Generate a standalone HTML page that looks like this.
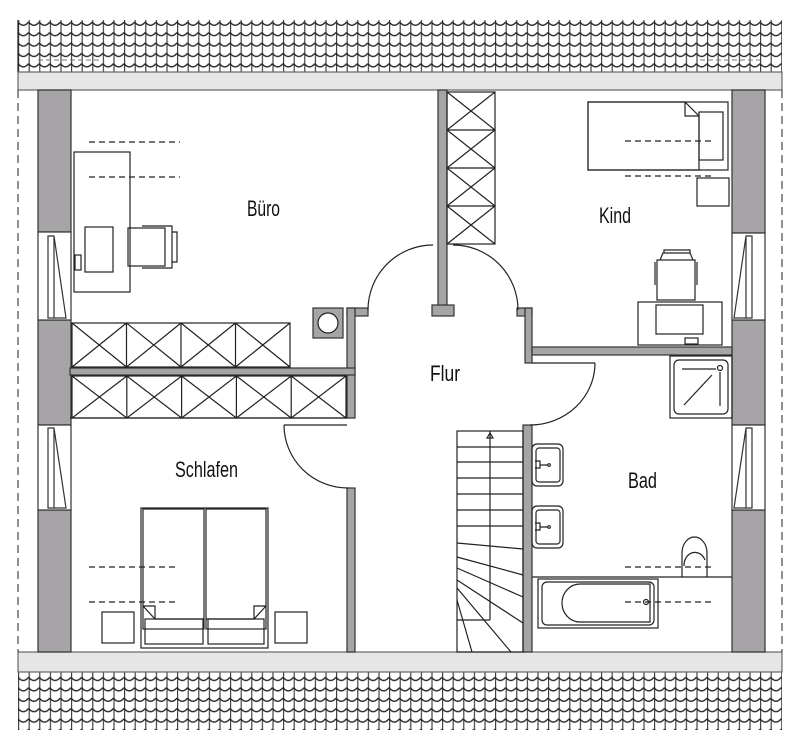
<!DOCTYPE html>
<html><head><meta charset="utf-8"><style>
html,body{margin:0;padding:0;background:#fff;width:800px;height:750px;overflow:hidden}
svg{display:block}
text{font-family:"Liberation Sans",sans-serif;font-size:22px;fill:#111}
</style></head><body>
<svg width="800" height="750" viewBox="0 0 800 750" xmlns="http://www.w3.org/2000/svg">
<defs>
<pattern id="tile" x="18" y="20" width="10.6" height="10.4" patternUnits="userSpaceOnUse">
<rect width="10.6" height="10.4" fill="#fff"/>
<line x1="0.6" y1="0" x2="0.6" y2="10.4" stroke="#333" stroke-width="1.1"/>
<path d="M0,2 Q5.3,8.5 10.6,2" fill="none" stroke="#222" stroke-width="1.4"/>
</pattern>
</defs>
<g stroke="#222" fill="none" stroke-width="1.2">
<rect x="18" y="20" width="764" height="52" fill="url(#tile)" stroke="none"/>
<line x1="18" y1="20" x2="18" y2="72"/>
<rect x="18" y="72" width="764" height="18" fill="#e6e6e6" stroke="#666"/>
<rect x="18" y="672" width="764" height="58" fill="url(#tile)" stroke="none"/>
<rect x="18" y="652" width="764" height="20" fill="#e6e6e6" stroke="#666"/>
<line x1="18" y1="90" x2="18" y2="652" stroke-dasharray="8,5" stroke="#444"/>
<line x1="782" y1="90" x2="782" y2="652" stroke-dasharray="8,5" stroke="#444"/>
<line x1="38" y1="60" x2="100" y2="60" stroke-dasharray="5,3" stroke="#777" stroke-width="1"/>
<line x1="700" y1="60" x2="760" y2="60" stroke-dasharray="5,3" stroke="#777" stroke-width="1"/>

<g fill="#a6a4a6" stroke="#333">
<rect x="38" y="90" width="33" height="142"/>
<rect x="38" y="320" width="33" height="105"/>
<rect x="38" y="510" width="33" height="142"/>
<rect x="732" y="90" width="33" height="143"/>
<rect x="732" y="320" width="33" height="105"/>
<rect x="732" y="510" width="33" height="142"/>
</g>
<g fill="#fff" stroke="#333">
<rect x="38" y="232" width="33" height="88"/>
<path d="M48,236 L54,236 L54,318 L48,318 Z M54,236 L66,318 L48,318"/>
<rect x="38" y="425" width="33" height="85"/>
<path d="M48,428 L54,428 L54,508 L48,508 Z M54,428 L66,508 L48,508"/>
<rect x="732" y="233" width="33" height="87"/>
<path d="M752,236 L746,236 L746,318 L752,318 Z M746,236 L734,318 L752,318"/>
<rect x="732" y="425" width="33" height="85"/>
<path d="M752,428 L746,428 L746,508 L752,508 Z M746,428 L734,508 L752,508"/>
</g>

<g fill="#a6a4a6" stroke="#333">
<rect x="438" y="90" width="9" height="216"/>
<rect x="432" y="305" width="22" height="11"/>
<rect x="347" y="308" width="21" height="8"/>
<rect x="347" y="308" width="8" height="110"/>
<rect x="70" y="368" width="285" height="7"/>
<rect x="347" y="488" width="8" height="164"/>
<rect x="517" y="308" width="15" height="8"/>
<rect x="525" y="308" width="7" height="55"/>
<rect x="532" y="347" width="200" height="8"/>
<rect x="523" y="425" width="9" height="227"/>
<rect x="313" y="308" width="30" height="30"/>
</g>
<circle cx="328" cy="323" r="10" fill="#fff"/>
<line x1="532" y1="363" x2="595" y2="363"/>

<path d="M368,310 A65,65 0 0 1 433,245"/>
<path d="M453,245 A65,65 0 0 1 518,310"/>
<path d="M530,425 A65,62 0 0 0 595,363"/>
<path d="M284,425 A64,63 0 0 0 348,488"/>
<line x1="284" y1="425" x2="347" y2="425"/>
<line x1="70" y1="418" x2="347" y2="418"/>

<rect x="447" y="92" width="48" height="152"/>
<path d="M447,92 L495,130 L447,168 L495,206 L447,244 M495,92 L447,130 L495,168 L447,206 L495,244 M447,130 H495 M447,168 H495 M447,206 H495"/>
<rect x="72" y="323" width="218" height="44"/>
<path d="M72,323 L126.5,367 M126.5,323 L72,367 M126.5,323 L181,367 M181,323 L126.5,367 M181,323 L235.5,367 M235.5,323 L181,367 M235.5,323 L290,367 M290,323 L235.5,367 M126.5,323 V367 M181,323 V367 M235.5,323 V367"/>
<rect x="72" y="376" width="274" height="42"/>
<path d="M72,376 L126.8,418 M126.8,376 L72,418 M126.8,376 L181.6,418 M181.6,376 L126.8,418 M181.6,376 L236.4,418 M236.4,376 L181.6,418 M236.4,376 L291.2,418 M291.2,376 L236.4,418 M291.2,376 L346,418 M346,376 L291.2,418 M126.8,376 V418 M181.6,376 V418 M236.4,376 V418 M291.2,376 V418"/>

<rect x="457" y="431" width="66" height="221"/>
<line x1="490" y1="431" x2="490" y2="620"/>
<line x1="457" y1="620" x2="490" y2="620"/>
<path d="M457,447 H523 M457,462 H523 M457,478 H523 M457,494 H523 M457,510 H523 M457,526 H523 M457,543 L523,549 M457,557 L523,575 M457,568 L523,597 M457,580 L523,623 M457,588 L511,652 M457,600 L472,652"/>
<path d="M487,438 L490,433 L493,438 Z"/>

<line x1="89" y1="142" x2="180" y2="142" stroke-dasharray="6,4"/>
<line x1="89" y1="177" x2="180" y2="177" stroke-dasharray="6,4"/>
<rect x="74" y="152" width="56" height="140"/>
<rect x="85" y="227" width="28" height="45"/>
<rect x="75" y="255" width="6" height="15"/>
<rect x="128" y="228" width="37" height="38"/>
<path d="M165,226 H172 V268 H165 M172,232 H177 V262 H172 M142,226 H165 M142,268 H165"/>

<rect x="588" y="102" width="140" height="68"/>
<path d="M588,102 H685 L699,116 V170 H588 Z M685,102 V116 H699"/>
<rect x="699" y="112" width="24" height="48"/>
<line x1="625" y1="141" x2="713" y2="141" stroke-dasharray="6,4"/>
<line x1="625" y1="176" x2="713" y2="176" stroke-dasharray="6,4"/>
<rect x="697" y="178" width="32" height="28"/>
<rect x="638" y="302" width="84" height="43"/>
<rect x="656" y="305" width="47" height="29"/>
<rect x="685" y="338" width="13" height="6"/>
<rect x="657" y="260" width="38" height="40"/>
<path d="M660,260 L663,253 H690 L693,260 M664,253 V250 H690 V253 M655,262 V285 M697,262 V285"/>
<rect x="670" y="356" width="62" height="62"/>
<rect x="674" y="360" width="54" height="54" rx="5"/>
<path d="M682,369 H716 M720,372 V406 M684,405 L712,375"/>
<circle cx="720" cy="368" r="2.5"/>
<rect x="532" y="444" width="31" height="42" rx="5"/>
<rect x="536" y="448" width="24" height="34" rx="3"/>
<rect x="532" y="506" width="31" height="42" rx="5"/>
<rect x="536" y="510" width="24" height="34" rx="3"/>
<path d="M535,461 H540 V468 H535 M540,465 H548 M535,523 H540 V530 H535 M540,527 H548"/>
<circle cx="549" cy="465" r="1.3"/><circle cx="549" cy="527" r="1.3"/>
<line x1="532" y1="577" x2="732" y2="577"/>
<path d="M682,577 V553 A12.5,16 0 0 1 707,553 V577"/>
<path d="M684,566 A11,13 0 0 1 705,560"/>
<line x1="625" y1="567" x2="713" y2="567" stroke-dasharray="6,4"/>
<rect x="538" y="579" width="120" height="49"/>
<rect x="542" y="582" width="112" height="43" rx="5"/>
<path d="M580,584 H650 V622 H580 A18,19 0 0 1 580,584 Z"/>
<line x1="625" y1="602" x2="713" y2="602" stroke-dasharray="6,4"/>
<circle cx="646" cy="602" r="2.5"/>

<line x1="89" y1="567" x2="179" y2="567" stroke-dasharray="6,4"/>
<line x1="89" y1="602" x2="179" y2="602" stroke-dasharray="6,4"/>
<rect x="141" y="508" width="127" height="140"/>
<rect x="143" y="509" width="61" height="120"/>
<rect x="206" y="509" width="60" height="120"/>
<path d="M143,606 L155,619 H204 M143,606 H155 V619 M266,606 L254,619 H206 M266,606 H254 V619"/>
<rect x="145" y="619" width="58" height="25"/>
<rect x="208" y="619" width="56" height="25"/>
<rect x="102" y="612" width="32" height="31"/>
<rect x="275" y="612" width="32" height="31"/>
</g>
<text x="247" y="216" textLength="33" lengthAdjust="spacingAndGlyphs">Büro</text>
<text x="599" y="223" textLength="32" lengthAdjust="spacingAndGlyphs">Kind</text>
<text x="430" y="381" textLength="30" lengthAdjust="spacingAndGlyphs">Flur</text>
<text x="175" y="477" textLength="63" lengthAdjust="spacingAndGlyphs">Schlafen</text>
<text x="628" y="488" textLength="29" lengthAdjust="spacingAndGlyphs">Bad</text>
</svg>
</body></html>
